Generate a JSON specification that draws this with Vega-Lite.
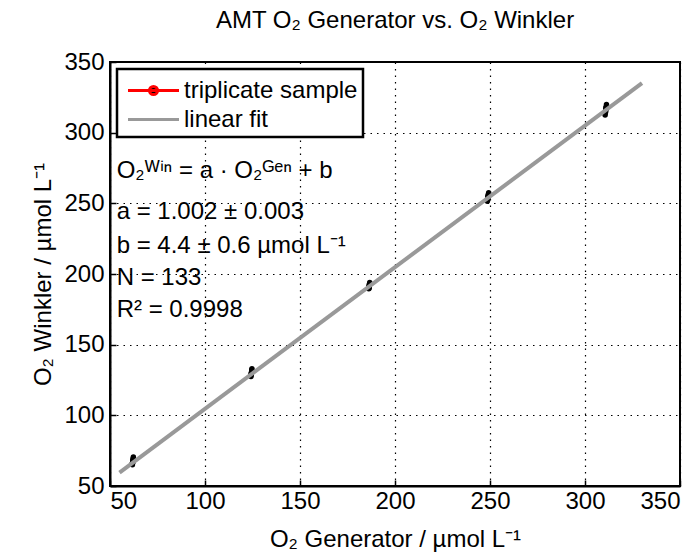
{
  "$schema": "https://vega.github.io/schema/vega-lite/v6.json",
  "width": 570,
  "height": 424,
  "autosize": {"type": "none"},
  "padding": {"left": 110, "top": 62, "right": 18, "bottom": 73},
  "background": "white",
  "title": {"text": "AMT O₂ Generator vs. O₂ Winkler", "fontSize": 24, "fontWeight": "normal", "font": "Liberation Sans", "color": "black", "offset": 17},
  "datasets": {
    "samples": [
      {"sample": "s1", "gen": 61.8, "win": 65.0}, {"sample": "s1", "gen": 61.9, "win": 66.5}, {"sample": "s1", "gen": 62.0, "win": 67.5},
      {"sample": "s2", "gen": 62.1, "win": 67.0}, {"sample": "s2", "gen": 62.2, "win": 69.0}, {"sample": "s2", "gen": 62.3, "win": 70.5},
      {"sample": "s3", "gen": 61.7, "win": 66.0}, {"sample": "s3", "gen": 62.0, "win": 68.0}, {"sample": "s3", "gen": 62.2, "win": 69.5},
      {"sample": "s4", "gen": 124.2, "win": 127.5}, {"sample": "s4", "gen": 124.3, "win": 129.0}, {"sample": "s4", "gen": 124.5, "win": 130.0},
      {"sample": "s5", "gen": 124.4, "win": 130.0}, {"sample": "s5", "gen": 124.6, "win": 131.5}, {"sample": "s5", "gen": 124.7, "win": 133.0},
      {"sample": "s6", "gen": 124.3, "win": 128.5}, {"sample": "s6", "gen": 124.5, "win": 130.5}, {"sample": "s6", "gen": 124.6, "win": 132.0},
      {"sample": "s7", "gen": 186.2, "win": 189.5}, {"sample": "s7", "gen": 186.3, "win": 190.5}, {"sample": "s7", "gen": 186.4, "win": 191.5},
      {"sample": "s8", "gen": 186.4, "win": 191.0}, {"sample": "s8", "gen": 186.5, "win": 192.5}, {"sample": "s8", "gen": 186.7, "win": 194.0},
      {"sample": "s9", "gen": 186.3, "win": 190.0}, {"sample": "s9", "gen": 186.5, "win": 191.5}, {"sample": "s9", "gen": 186.6, "win": 193.0},
      {"sample": "s10", "gen": 248.6, "win": 251.5}, {"sample": "s10", "gen": 248.8, "win": 253.0}, {"sample": "s10", "gen": 249.0, "win": 254.5},
      {"sample": "s11", "gen": 248.9, "win": 254.5}, {"sample": "s11", "gen": 249.1, "win": 256.0}, {"sample": "s11", "gen": 249.3, "win": 257.5},
      {"sample": "s12", "gen": 248.7, "win": 252.5}, {"sample": "s12", "gen": 249.0, "win": 255.0}, {"sample": "s12", "gen": 249.2, "win": 256.5},
      {"sample": "s13", "gen": 310.6, "win": 312.5}, {"sample": "s13", "gen": 310.7, "win": 314.0}, {"sample": "s13", "gen": 310.9, "win": 315.5},
      {"sample": "s14", "gen": 310.9, "win": 316.0}, {"sample": "s14", "gen": 311.1, "win": 318.0}, {"sample": "s14", "gen": 311.3, "win": 320.0},
      {"sample": "s15", "gen": 310.8, "win": 314.5}, {"sample": "s15", "gen": 311.0, "win": 316.5}, {"sample": "s15", "gen": 311.1, "win": 318.0}
    ],
    "fit": [
      {"gen": 55, "win": 59.5},
      {"gen": 330, "win": 335.1}
    ],
    "notes": [
      {"gen": 53.5, "win": 273, "label": "O₂ᵂⁱⁿ = a · O₂ᴳᵉⁿ + b"},
      {"gen": 53.5, "win": 244, "label": "a = 1.002 ± 0.003"},
      {"gen": 53.5, "win": 219.5, "label": "b = 4.4 ± 0.6 µmol L⁻¹"},
      {"gen": 53.5, "win": 197, "label": "N = 133"},
      {"gen": 53.5, "win": 174.5, "label": "R² = 0.9998"}
    ]
  },
  "encoding": {
    "x": {"field": "gen", "type": "quantitative", "scale": {"domain": [50, 350], "nice": false, "zero": false}, "axis": {"values": [50, 100, 150, 200, 250, 300, 350], "title": "O₂ Generator / µmol L⁻¹"}},
    "y": {"field": "win", "type": "quantitative", "scale": {"domain": [50, 350], "nice": false, "zero": false}, "axis": {"values": [50, 100, 150, 200, 250, 300, 350], "title": "O₂ Winkler / µmol L⁻¹"}}
  },
  "layer": [
    {
      "data": {"name": "samples"},
      "transform": [{"calculate": "'triplicate sample'", "as": "series"}],
      "mark": {"type": "line", "strokeWidth": 2},
      "encoding": {
        "detail": {"field": "sample"},
        "color": {"field": "series", "type": "nominal"}
      }
    },
    {
      "data": {"name": "samples"},
      "mark": {"type": "circle", "color": "black", "size": 30, "opacity": 1},
      "encoding": {}
    },
    {
      "data": {"name": "fit"},
      "transform": [{"calculate": "'linear fit'", "as": "series"}],
      "mark": {"type": "line", "strokeWidth": 4},
      "encoding": {
        "color": {
          "field": "series", "type": "nominal",
          "scale": {"domain": ["triplicate sample", "linear fit"], "range": ["#ff0000", "#999999"]},
          "legend": {
            "title": null,
            "orient": "top-left",
            "offset": 7,
            "symbolType": "M-1.7,0H1.7",
            "symbolSize": 900,
            "symbolStrokeWidth": 3,
            "symbolOffset": 15,
            "labelFontSize": 24,
            "labelFont": "Liberation Sans",
            "labelColor": "black",
            "labelLimit": 400,
            "fillColor": "white",
            "strokeColor": "black",
            "padding": 5,
            "rowPadding": 0,
            "labelOffset": 14,
            "encode": {
              "legend": {"update": {"strokeWidth": {"value": 2.5}}},
              "symbols": {
                "update": {
                  "shape": {"signal": "datum.value === 'linear fit' ? 'M-1.7,0H1.7' : 'M-1.7,0H1.7M-0.27,0a0.27,0.27 0 1,0 0.54,0a0.27,0.27 0 1,0 -0.54,0'"},
                  "fill": {"signal": "datum.value === 'linear fit' ? 'transparent' : 'black'"}
                }
              }
            }
          }
        }
      }
    },
    {
      "data": {"name": "notes"},
      "mark": {"type": "text", "align": "left", "baseline": "middle", "fontSize": 24, "font": "Liberation Sans", "color": "black"},
      "encoding": {
        "text": {"field": "label"}
      }
    }
  ],
  "config": {
    "view": {"stroke": "black", "strokeWidth": 2},
    "font": "Liberation Sans",
    "axis": {
      "grid": true,
      "gridColor": "black",
      "gridDash": [1.5, 5],
      "gridWidth": 1.2,
      "gridOpacity": 1,
      "domainColor": "black",
      "domainWidth": 2,
      "tickColor": "black",
      "tickSize": -6,
      "tickWidth": 1.5,
      "labelFontSize": 24,
      "labelColor": "black",
      "labelFont": "Liberation Sans",
      "titleFontSize": 24,
      "titleFontWeight": "normal",
      "titleColor": "black",
      "titleFont": "Liberation Sans"
    },
    "axisX": {"labelPadding": 9, "titlePadding": 14},
    "axisY": {"labelPadding": 12, "titlePadding": 8}
  }
}
